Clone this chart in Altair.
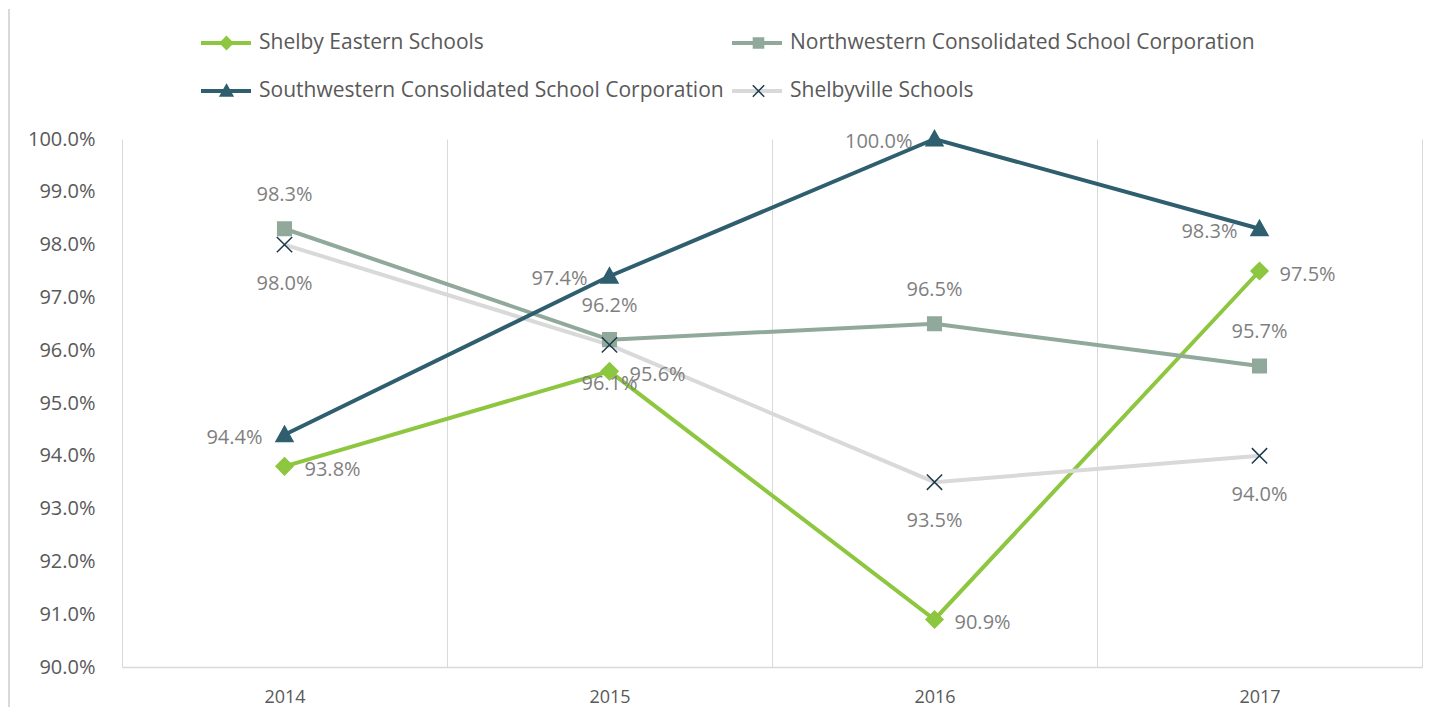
import altair as alt
import pandas as pd

FONT = "Open Sans"

years = ["2014", "2015", "2016", "2017"]
series_names = [
    "Shelby Eastern Schools",
    "Northwestern Consolidated School Corporation",
    "Southwestern Consolidated School Corporation",
    "Shelbyville Schools",
]
shelby_eastern = [0.938, 0.956, 0.909, 0.975]
northwestern = [0.983, 0.962, 0.965, 0.957]
southwestern = [0.944, 0.974, 1.000, 0.983]
shelbyville = [0.980, 0.961, 0.935, 0.940]
y_ticks = [0.90, 0.91, 0.92, 0.93, 0.94, 0.95, 0.96, 0.97, 0.98, 0.99, 1.00]

# legend fills column by column: this order puts them row by row as in the reference
legend_order = [series_names[0], series_names[2], series_names[1], series_names[3]]
line_colors = ["#8dc63f", "#2f5f6f", "#91a99b", "#d9d9d9"]
marker_fill = ["#8dc63f", "#2f5f6f", "#91a99b", "transparent"]
marker_stroke = ["#8dc63f", "#2f5f6f", "#91a99b", "#1d3b4c"]
marker_paths = [
    "M0,-1L1,0L0,1L-1,0Z",
    "M0,-1L1,0.8H-1Z",
    "M-0.8,-0.8H0.8V0.8H-0.8Z",
    "M-0.9,-0.9L0.9,0.9M0.9,-0.9L-0.9,0.9",
]

values = {
    series_names[0]: shelby_eastern,
    series_names[1]: northwestern,
    series_names[2]: southwestern,
    series_names[3]: shelbyville,
}

ZW = "\u200b"  # keeps the marker legend separate from the line legend


def make_df(order):
    rows = []
    for s in order:
        for y, v in zip(years, values[s]):
            rows.append({"year": y, "series": s, "marker": s + ZW, "value": v})
    return pd.DataFrame(rows)


df_lines = make_df([series_names[0], series_names[1], series_names[3], series_names[2]])
df_points = make_df(series_names)
marker_domain = [s + ZW for s in legend_order]

x_enc = alt.X(
    "year:O",
    bandPosition=0.5,
    scale=alt.Scale(type="band", paddingInner=0, paddingOuter=0),
    axis=alt.Axis(
        title=None, grid=True, tickBand="extent", gridColor="#d9d9d9", gridWidth=1,
        domainColor="#d9d9d9", domainWidth=1.5, ticks=False, tickSize=0, labelAngle=0,
        labelFont=FONT, labelFontSize=18, labelColor="#595959", labelPadding=21,
    ),
)
y_enc = alt.Y(
    "value:Q",
    scale=alt.Scale(domain=[0.9, 1.0], nice=False, zero=False),
    axis=alt.Axis(
        title=None, values=y_ticks, format=".1%", grid=False, domain=False, ticks=False,
        tickSize=0, labelFont=FONT, labelFontSize=20, labelColor="#595959", labelPadding=27,
    ),
)

common_legend = dict(
    orient="none", legendX=77, legendY=-108, columns=2, columnPadding=6, rowPadding=24,
    clipHeight=24, labelFont=FONT, labelFontSize=21, labelColor="#595959",
    labelLimit=700, title=None, padding=0,
)

legend_lines = alt.Legend(symbolType="stroke", symbolSize=2500, symbolStrokeWidth=4,
                          labelOffset=6, **common_legend)
legend_marks = alt.Legend(symbolSize=160, symbolStrokeWidth=1.5, symbolOffset=17,
                          labelOffset=23, labelOpacity=0, **common_legend)

lines = alt.Chart(df_lines).mark_line(strokeWidth=4).encode(
    x=x_enc,
    y=y_enc,
    color=alt.Color("series:N", scale=alt.Scale(domain=legend_order, range=line_colors),
                    legend=legend_lines),
)

points = alt.Chart(df_points).mark_point(size=289, strokeWidth=1.5, opacity=1).encode(
    x=x_enc,
    y=y_enc,
    shape=alt.Shape("marker:N", scale=alt.Scale(domain=marker_domain, range=marker_paths),
                    legend=legend_marks),
    fill=alt.Fill("marker:N", scale=alt.Scale(domain=marker_domain, range=marker_fill),
                  legend=legend_marks),
    stroke=alt.Stroke("marker:N", scale=alt.Scale(domain=marker_domain, range=marker_stroke),
                      legend=legend_marks),
)

label_specs = [
    (series_names[0], "left", 20, 4),
    (series_names[1], "center", 0, -34),
    (series_names[2], "right", -22, 3),
    (series_names[3], "center", 0, 39),
]
texts = []
for name, align, dx, dy in label_specs:
    texts.append(
        alt.Chart(df_points).transform_filter(alt.datum.series == name).mark_text(
            align=align, baseline="middle", dx=dx, dy=dy, font=FONT, fontSize=20,
            color="#7f7f7f",
        ).encode(x=x_enc, y=y_enc, text=alt.Text("value:Q", format=".1%"))
    )

# faint outer frame edge on the left, as in the reference
frame = alt.Chart(df_points).mark_rule(color="#d9d9d9", strokeWidth=1.5).encode(
    x=alt.value(-113), y=alt.value(-130), y2=alt.value(578)
)

chart = alt.layer(frame, lines, points, *texts).properties(
    width=1300, height=528,
    autosize=alt.AutoSizeParams(type="none"),
    padding={"left": 114, "top": 131, "right": 14, "bottom": 40},
).configure_view(stroke=None)

chart.save("out.html", embed_options={"renderer": "svg", "actions": False})
